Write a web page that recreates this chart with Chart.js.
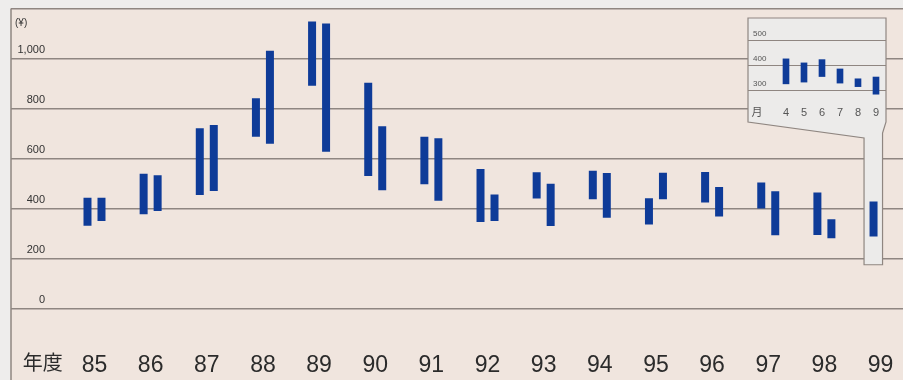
<!DOCTYPE html>
<html><head><meta charset="utf-8">
<script src="https://cdn.jsdelivr.net/npm/chart.js@4"></script>
<style>
html,body{margin:0;padding:0;background:#eeedec;}
#wrap{position:relative;width:903px;height:380px;overflow:hidden;}
#main{position:absolute;left:0;top:0;}
#inset{position:absolute;left:748px;top:18px;}
</style></head><body>
<div id="wrap"><canvas id="main" width="903" height="380"></canvas><canvas id="inset" width="138" height="104"></canvas></div>
<script>
// ---- data ----
const years = [85, 86, 87, 88, 89, 90, 91, 92, 93, 94, 95, 96, 97, 98, 99];
const firstHalfLow  = [331, 377, 454, 687, 891, 530, 497, 346, 440, 437, 336, 424, 400, 294, 288];
const firstHalfHigh = [443, 539, 721, 841, 1148, 903, 687, 558, 545, 551, 441, 546, 504, 464, 428];
const secondHalfLow  = [350, 390, 470, 659, 627, 473, 431, 350, 330, 363, 437, 368, 293, 281, null];
const secondHalfHigh = [443, 533, 734, 1031, 1140, 729, 681, 456, 499, 542, 543, 486, 469, 357, null];
const yTickValues = [0, 200, 400, 600, 800, 1000, 1200];
const months = [4, 5, 6, 7, 8, 9];
const monthLow  = [328, 335, 357, 331, 317, 287];
const monthHigh = [427, 411, 424, 387, 348, 355];
const insetTickValues = [300, 400, 500];
const yearAxisTitle = '年度';
const monthAxisTitle = '月';
const unitLabel = '(¥)';

// ---- styles ----
const FONT = '"Liberation Sans", Arial, "Noto Sans CJK JP", sans-serif';
const BLUE = '#0e3b98';
const GRID = '#8f8681';
const BEIGE = '#f0e5de';
const OUTSIDE = '#eeedec';
const INSET_FILL = '#ecebea';
const YEAR_TITLE_POS = 84.08;
const MONTH_TITLE_POS = 2.389;

const ds1 = years.map((y, i) => ({x: y, y: [firstHalfLow[i], firstHalfHigh[i]]}));
const ds2 = years.map((y, i) => ({x: y, lo: secondHalfLow[i], hi: secondHalfHigh[i]}))
  .filter(d => d.lo != null).map(d => ({x: d.x, y: [d.lo, d.hi]}));

const decor = {
  id: 'decor',
  beforeDraw(c) {
    const {ctx, chartArea: a} = c;
    ctx.save();
    ctx.fillStyle = OUTSIDE;
    ctx.fillRect(0, 0, c.width, c.height);
    ctx.fillStyle = BEIGE;
    ctx.fillRect(a.left, a.top, c.width - a.left, c.height - a.top);
    ctx.restore();
  },
  beforeDatasetsDraw(c) {
    const {ctx} = c;
    const meta = c.getDatasetMeta(0);
    const bar = meta.data[meta.data.length - 1];
    const l = bar.x - 9.5, r = bar.x + 9;
    const b = c.scales.y.getPixelForValue(175);
    ctx.save();
    ctx.beginPath();
    ctx.moveTo(748, 18); ctx.lineTo(886, 18); ctx.lineTo(886, 122);
    ctx.lineTo(r, 133); ctx.lineTo(r, b); ctx.lineTo(l, b); ctx.lineTo(l, 138);
    ctx.lineTo(748, 122); ctx.closePath();
    ctx.fillStyle = INSET_FILL; ctx.fill();
    ctx.strokeStyle = GRID; ctx.lineWidth = 1.2; ctx.stroke();
    ctx.restore();
  },
  afterDraw(c) {
    const {ctx, chartArea: a} = c;
    ctx.save();
    ctx.strokeStyle = GRID; ctx.lineWidth = 1.5;
    ctx.beginPath(); ctx.moveTo(a.left, a.top); ctx.lineTo(a.left, c.height); ctx.stroke();
    ctx.fillStyle = '#333'; ctx.font = '10px ' + FONT;
    ctx.textAlign = 'left'; ctx.textBaseline = 'middle';
    ctx.fillText(unitLabel, 15, 23);
    ctx.restore();
  }
};

new Chart(document.getElementById('main'), {
  type: 'bar',
  data: {datasets: [
    {data: ds1, backgroundColor: BLUE, borderWidth: 0},
    {data: ds2, backgroundColor: BLUE, borderWidth: 0}
  ]},
  options: {
    responsive: false, animation: false, devicePixelRatio: 1,
    layout: {padding: {left: 11, top: 8.5, right: 0, bottom: 0}},
    plugins: {legend: {display: false}, tooltip: {enabled: false}},
    datasets: {bar: {categoryPercentage: 0.542, barPercentage: 0.571}},
    scales: {
      x: {
        type: 'linear', offset: false, min: 83.513, max: 99.40,
        grid: {display: false, offset: false, drawTicks: false}, border: {display: false},
        afterBuildTicks(s) { s.ticks = [YEAR_TITLE_POS, ...years].map(v => ({value: v})); },
        afterFit(s) { s.height = 71.5; s.paddingLeft = 0; s.paddingRight = 0; },
        ticks: {
          autoSkip: false, maxRotation: 0, minRotation: 0, padding: 43.5, color: '#2b2b2b',
          font: (ctx) => (ctx.tick && ctx.tick.value < 85) ? {family: FONT, size: 20} : {family: FONT, size: 23},
          callback: (v) => v < 85 ? yearAxisTitle : String(v)
        }
      },
      y: {
        min: 0, max: 1200,
        afterBuildTicks(s) { s.ticks = yTickValues.map(v => ({value: v})); },
        afterFit(s) { s.width = 0; s.paddingTop = 0; s.paddingBottom = 0; },
        grid: {color: GRID, lineWidth: 1.5, drawTicks: false},
        border: {display: false},
        ticks: {
          mirror: true, crossAlign: 'far', padding: 6.5, labelOffset: -9, color: '#333',
          font: {family: FONT, size: 11},
          callback: (v) => v >= 1200 ? '' : v.toLocaleString('en-US')
        }
      }
    }
  },
  plugins: [decor]
});

new Chart(document.getElementById('inset'), {
  type: 'bar',
  data: {datasets: [
    {data: months.map((m, i) => ({x: m, y: [monthLow[i], monthHigh[i]]})), backgroundColor: BLUE, borderWidth: 0, barThickness: 6}
  ]},
  options: {
    responsive: false, animation: false, devicePixelRatio: 1,
    layout: {padding: 0},
    plugins: {legend: {display: false}, tooltip: {enabled: false}},
    scales: {
      x: {
        type: 'linear', offset: false, min: 1.889, max: 9.556,
        grid: {display: false, offset: false, drawTicks: false}, border: {display: false},
        afterBuildTicks(s) { s.ticks = [MONTH_TITLE_POS, ...months].map(v => ({value: v})); },
        afterFit(s) { s.height = 21; s.paddingLeft = 0; s.paddingRight = 0; },
        ticks: {
          autoSkip: false, maxRotation: 0, minRotation: 0, padding: 5, color: '#555',
          font: {family: FONT, size: 11},
          callback: (v) => v < 4 ? monthAxisTitle : String(v)
        }
      },
      y: {
        min: 260, max: 589,
        afterBuildTicks(s) { s.ticks = insetTickValues.map(v => ({value: v})); },
        afterFit(s) { s.width = 0; s.paddingTop = 0; s.paddingBottom = 0; },
        grid: {color: GRID, lineWidth: 1, drawTicks: false},
        border: {display: false},
        ticks: {mirror: true, crossAlign: 'near', padding: 5, labelOffset: -7, color: '#555', font: {family: FONT, size: 8}}
      }
    }
  }
});
</script>
</body></html>
